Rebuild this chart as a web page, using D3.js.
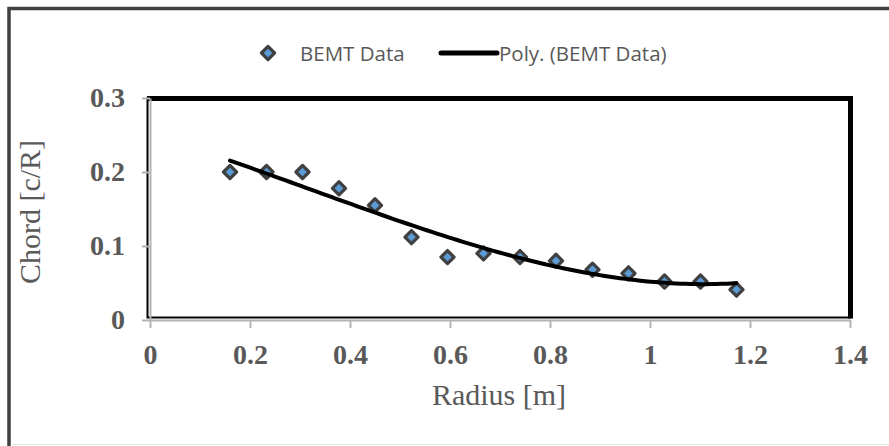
<!DOCTYPE html>
<html>
<head>
<meta charset="utf-8">
<script src="https://cdn.jsdelivr.net/npm/d3@7"></script>
<style>
  html, body { margin: 0; padding: 0; background: #ffffff; }
  svg { display: block; }
</style>
</head>
<body>
<svg id="chart" width="889" height="446"></svg>
<script>
// ---- data ----
const radius = [0.160, 0.233, 0.305, 0.378, 0.450, 0.523, 0.595, 0.667, 0.740, 0.812, 0.885, 0.957, 1.029, 1.101, 1.173];
const chord  = [0.200, 0.200, 0.200, 0.178, 0.155, 0.112, 0.085, 0.090, 0.085, 0.080, 0.068, 0.063, 0.052, 0.052, 0.041];
const xTicks = [0, 0.2, 0.4, 0.6, 0.8, 1, 1.2, 1.4];
const xTickLabels = ["0", "0.2", "0.4", "0.6", "0.8", "1", "1.2", "1.4"];
const yTicks = [0, 0.1, 0.2, 0.3];
const yTickLabels = ["0", "0.1", "0.2", "0.3"];
const seriesName = "BEMT Data";
const trendName = "Poly. (BEMT Data)";
const xTitle = "Radius [m]";
const yTitle = "Chord [c/R]";
const polyOrder = 3;

// ---- polynomial least-squares trendline (like Excel's Poly trendline) ----
function polyFit(xs, ys, order) {
  const n = order + 1;
  const A = Array.from({length: n}, () => new Array(n + 1).fill(0));
  for (let r = 0; r < n; r++) {
    for (let c = 0; c < n; c++) A[r][c] = d3.sum(xs, x => Math.pow(x, r + c));
    A[r][n] = d3.sum(xs.map((x, i) => Math.pow(x, r) * ys[i]));
  }
  for (let i = 0; i < n; i++) {
    let p = i;
    for (let k = i + 1; k < n; k++) if (Math.abs(A[k][i]) > Math.abs(A[p][i])) p = k;
    [A[i], A[p]] = [A[p], A[i]];
    for (let k = i + 1; k < n; k++) {
      const f = A[k][i] / A[i][i];
      for (let j = i; j <= n; j++) A[k][j] -= f * A[i][j];
    }
  }
  const coef = new Array(n).fill(0);
  for (let i = n - 1; i >= 0; i--) {
    let s = A[i][n];
    for (let j = i + 1; j < n; j++) s -= A[i][j] * coef[j];
    coef[i] = s / A[i][i];
  }
  return x => coef.reduce((acc, c, i) => acc + c * Math.pow(x, i), 0);
}
const fit = polyFit(radius, chord, polyOrder);
const [xMin, xMax] = d3.extent(radius);
const trend = d3.range(0, 101).map(i => {
  const xv = xMin + (xMax - xMin) * i / 100;
  return [xv, fit(xv)];
});

// ---- layout ----
const svg = d3.select("#chart");
const x = d3.scaleLinear().domain([0, 1.4]).range([150, 850]);
const y = d3.scaleLinear().domain([0, 0.3]).range([320, 98]);

const grayText = "#595959";
const axisGray = "#b3b3b3";

// outer chart border
svg.append("rect")
  .attr("x", 9).attr("y", 8.5)
  .attr("width", 900).attr("height", 460)
  .attr("fill", "#ffffff")
  .attr("stroke", "#404040").attr("stroke-width", 3.5);
svg.append("line")
  .attr("x1", 12).attr("x2", 889).attr("y1", 444.5).attr("y2", 444.5)
  .attr("stroke", "#e6e6e6").attr("stroke-width", 1);

// plot area border (black)
svg.append("rect")
  .attr("x", x(0) - 2.5).attr("y", y(0.3))
  .attr("width", x(1.4) - x(0) + 2.5).attr("height", y(0) - 2.5 - y(0.3))
  .attr("fill", "none").attr("stroke", "#000").attr("stroke-width", 2);
svg.append("line")
  .attr("x1", x(0) - 3).attr("x2", x(1.4) + 3)
  .attr("y1", y(0.3) + 0.5).attr("y2", y(0.3) + 0.5)
  .attr("stroke", "#000").attr("stroke-width", 5);
svg.append("line")
  .attr("x1", x(1.4) + 0.5).attr("x2", x(1.4) + 0.5)
  .attr("y1", y(0.3) - 2).attr("y2", y(0) - 1.5)
  .attr("stroke", "#000").attr("stroke-width", 5);

// axes
const xAxis = d3.axisBottom(x)
  .tickValues(xTicks)
  .tickFormat((d, i) => xTickLabels[i])
  .tickSizeInner(8).tickSizeOuter(0).tickPadding(16);
const yAxis = d3.axisLeft(y)
  .tickValues(yTicks)
  .tickFormat((d, i) => yTickLabels[i])
  .tickSizeInner(8).tickSizeOuter(0).tickPadding(17);

function styleAxis(g) {
  g.select(".domain").attr("stroke", axisGray).attr("stroke-width", 2);
  g.selectAll(".tick line").attr("stroke", axisGray).attr("stroke-width", 2);
  g.selectAll(".tick text")
    .attr("fill", grayText)
    .style("font-family", "'Liberation Serif', 'Times New Roman', serif")
    .style("font-weight", "bold")
    .style("font-size", "28px");
}
svg.append("g").attr("transform", `translate(0,${y(0)})`).call(xAxis).call(styleAxis);
svg.append("g").attr("transform", `translate(${x(0)},0)`).call(yAxis).call(styleAxis);

// axis titles
svg.append("text")
  .attr("x", (x(0) + x(1.4)) / 2 - 1).attr("y", 405)
  .attr("text-anchor", "middle")
  .attr("fill", grayText)
  .style("font-family", "'Liberation Serif', 'Times New Roman', serif")
  .style("font-size", "30px")
  .text(xTitle);
svg.append("text")
  .attr("transform", `translate(40,${(y(0) + y(0.3)) / 2 + 3}) rotate(-90)`)
  .attr("text-anchor", "middle")
  .attr("fill", grayText)
  .style("font-family", "'Liberation Serif', 'Times New Roman', serif")
  .style("font-size", "30px")
  .text(yTitle);

// markers
const diamond = d3.symbol().type(d3.symbolDiamond2).size(110);
svg.append("g").selectAll("path")
  .data(radius.map((r, i) => [r, chord[i]]))
  .join("path")
  .attr("d", diamond)
  .attr("transform", d => `translate(${x(d[0])},${y(d[1])})`)
  .attr("fill", "#5b9bd5")
  .attr("stroke", "#404040")
  .attr("stroke-width", 3.2)
  .attr("stroke-linejoin", "round");

// trendline
svg.append("path")
  .datum(trend)
  .attr("d", d3.line().x(d => x(d[0])).y(d => y(d[1])))
  .attr("fill", "none")
  .attr("stroke", "#000")
  .attr("stroke-width", 4)
  .attr("stroke-linecap", "round");

// legend
const legY = 53;
svg.append("path")
  .attr("d", diamond)
  .attr("transform", `translate(268,${legY})`)
  .attr("fill", "#5b9bd5")
  .attr("stroke", "#404040")
  .attr("stroke-width", 3.2)
  .attr("stroke-linejoin", "round");
svg.append("text")
  .attr("x", 300).attr("y", legY + 7.5)
  .attr("fill", grayText)
  .style("font-family", "'Open Sans', 'Noto Sans', sans-serif")
  .style("font-size", "20.5px")
  .text(seriesName);
svg.append("line")
  .attr("x1", 441).attr("x2", 497)
  .attr("y1", legY).attr("y2", legY)
  .attr("stroke", "#000").attr("stroke-width", 5).attr("stroke-linecap", "round");
svg.append("text")
  .attr("x", 499).attr("y", legY + 7.5)
  .attr("fill", grayText)
  .style("font-family", "'Open Sans', 'Noto Sans', sans-serif")
  .style("font-size", "20.5px")
  .text(trendName);
</script>
</body>
</html>
